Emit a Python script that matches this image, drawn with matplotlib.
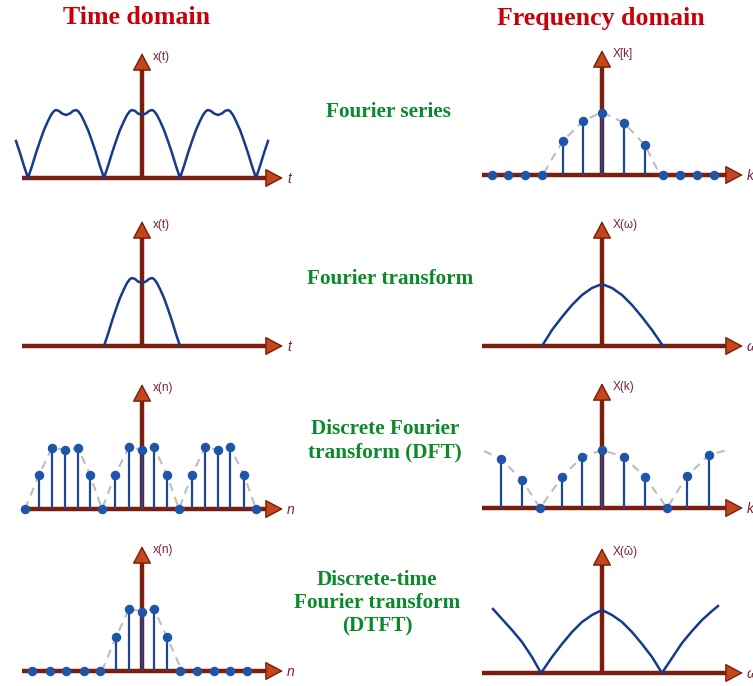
import matplotlib.pyplot as plt
import numpy as np

W, H = 753, 686

# --- data (panel units: 1 unit ~ 1 px, origin at the axes crossing) ---
# one arch of the continuous time signal (offset from arch centre, height)
arch_u = [-38, -34, -30, -26, -22, -18, -15, -12, -10, -7, -4, 0, 4, 7, 10, 12, 15, 18, 22, 26, 30, 34, 38]
arch_h = [0, 12, 25, 37, 48, 57, 63, 67, 68, 67, 64.5, 63, 64.5, 67, 68, 67, 63, 57, 48, 37, 25, 12, 0]
fs_centres = [-152, -76, 0, 76, 152]     # Fourier series: periodic copies
fs_span = (-127, 127)

# Fourier series coefficients X[k]
fsk_x = [-110, -94, -77, -60, -39, -19, 0, 22, 43, 61, 78, 95, 112]
fsk_h = [0, 0, 0, 0, 34, 54, 62, 52, 30, 0, 0, 0, 0]
fsk_env_x = [-58, -50, -39, -19, 0, 22, 43, 57]
fsk_env_h = [2, 16, 34, 54, 63, 52, 30, 2]

# Fourier transform X(w)
ft_w = [-60, -50, -40, -30, -20, -10, 0, 10, 20, 30, 40, 50, 61]
ft_h = [0, 16, 29, 41, 51, 58, 62, 58, 51, 41, 29, 16, 0]

# DFT: x(n) periodic samples
dft_n = [-117, -103, -90, -77, -64, -52, -40, -27, -13, 0, 12, 25, 37, 50, 63, 76, 88, 102, 114]
dft_x = [0, 34, 61, 59, 61, 34, 0, 34, 62, 59, 62, 34, 0, 34, 62, 59, 62, 34, 0]
# DFT: X(k)
dft_k = [-101, -80, -62, -40, -20, 0, 22, 43, 65, 85, 107]
dft_X = [49, 28, 0, 31, 51, 58, 51, 31, 0, 32, 53]
dft_env_k = [-118, -101, -80, -62, -40, -20, 0, 22, 43, 65, 85, 107, 125]
dft_env_X = [57, 49, 28, 0, 31, 51, 58, 51, 31, 0, 32, 53, 58]

# DTFT: x(n) finite samples
dtft_n = [-110, -92, -76, -58, -42, -26, -13, 0, 12, 25, 38, 55, 72, 88, 105]
dtft_x = [0, 0, 0, 0, 0, 34, 62, 59, 62, 34, 0, 0, 0, 0, 0]
dtft_env_n = [-40, -26, -13, 0, 12, 25, 40]
dtft_env_x = [0, 34, 62, 60, 62, 34, 0]
# DTFT: X(w~)
dtft_w = [-109, -100, -90, -80, -70, -61, -50, -40, -30, -20, -10, 0, 10, 20, 30, 40, 50, 60,
          70, 80, 90, 100, 110, 116]
dtft_X = [64, 54, 43, 31, 16, 0, 16, 29, 41, 51, 58, 63, 58, 51, 41, 29, 16, 0,
          15, 30, 42, 53, 62, 67]

row_titles = ["Fourier series", "Fourier transform", "Discrete Fourier\ntransform (DFT)",
              "Discrete-time\nFourier transform\n(DTFT)"]

# --- styles ---
AXIS_C = "#7a1e0e"
HEAD_C = "#c4461b"
CURVE_C = "#163a8c"
STEM_C = "#1f4596"
DOT_C = "#1f55a8"
ENV_C = "#bdbdbd"
LBL_C = "#7b1f3a"
GREEN = "#0a8a2a"
RED = "#c8000a"

fig = plt.figure(figsize=(W / 100, H / 100), dpi=100)


def panel(ox, oy, ylab, xlab):
    ax = fig.add_axes([(ox - 130) / W, (H - oy - 22) / H, 282 / W, 157 / H])
    ax.set_xlim(-130, 152)
    ax.set_ylim(-22, 135)
    ax.axis("off")
    x_left, x_tip, y_tip = -120, 141, 125
    head = 15
    ax.plot([x_left, x_tip - head + 2], [0, 0], color=AXIS_C, lw=3.2, solid_capstyle="butt", zorder=2)
    ax.plot([0, 0], [0, y_tip - head + 2], color=AXIS_C, lw=3.2, solid_capstyle="butt", zorder=2)
    style = "-|>,head_length=0.75,head_width=0.4"
    for start, tip in [((x_tip - head, 0), (x_tip, 0)), ((0, y_tip - head), (0, y_tip))]:
        ax.annotate("", xy=tip, xytext=start,
                    arrowprops=dict(arrowstyle=style, mutation_scale=15, fc=HEAD_C, ec=AXIS_C,
                                    lw=1, shrinkA=0, shrinkB=0), zorder=2)
    ax.text(11, 121, ylab, color=LBL_C, fontsize=8.5, family="Liberation Sans",
            ha="left", va="center")
    ax.text(145, -1, xlab, color=LBL_C, fontsize=10, style="italic", family="Liberation Sans",
            ha="left", va="center")
    return ax


def stems(ax, xs, hs, env_x=None, env_h=None):
    if env_x is not None:
        ax.plot(env_x, env_h, color=ENV_C, lw=1.5, dashes=(4, 3), zorder=1)
    xs = np.array(xs)
    hs = np.array(hs)
    ax.vlines(xs, 0, hs, color=STEM_C, lw=1.6, zorder=3)
    ax.plot(xs, hs, "o", color=DOT_C, ms=5.8, zorder=4)


# Fourier series
ax = panel(142, 178, "x(t)", "t")
u = np.concatenate([np.array(arch_u) + c for c in fs_centres])
h = np.concatenate([arch_h for c in fs_centres])
keep = (u >= fs_span[0]) & (u <= fs_span[1])
ax.plot(u[keep], h[keep], color=CURVE_C, lw=1.8, zorder=3)

ax = panel(602, 175, "X[k]", "k")
stems(ax, fsk_x, fsk_h, fsk_env_x, fsk_env_h)

# Fourier transform
ax = panel(142, 346, "x(t)", "t")
ax.plot(arch_u, arch_h, color=CURVE_C, lw=1.8, zorder=3)

ax = panel(602, 346, "X(ω)", "ω")
ax.plot(ft_w, ft_h, color=CURVE_C, lw=1.8, zorder=3)

# DFT
ax = panel(142, 509, "x(n)", "n")
stems(ax, dft_n, dft_x, dft_n, dft_x)

ax = panel(602, 508, "X(k)", "k")
stems(ax, dft_k, dft_X, dft_env_k, dft_env_X)

# DTFT
ax = panel(142, 671, "x(n)", "n")
stems(ax, dtft_n, dtft_x, dtft_env_n, dtft_env_x)

ax = panel(602, 673, "X(ῶ)", "ω")
ax.plot(dtft_w, dtft_X, color=CURVE_C, lw=1.8, zorder=3)

# headings and row names
fig.text(137 / W, 1 - 18 / H, "Time domain", color=RED, fontsize=18.6, fontweight="bold",
         family="Liberation Serif", ha="center", va="center")
fig.text(601 / W, 1 - 18 / H, "Frequency domain", color=RED, fontsize=18.6, fontweight="bold",
         family="Liberation Serif", ha="center", va="center")
for (cx, cy), name in zip([(388, 112), (390, 279), (385, 441), (377, 603)], row_titles):
    fig.text(cx / W, 1 - cy / H, name, color=GREEN, fontsize=15.3, fontweight="bold",
             family="Liberation Serif", ha="center", va="center", linespacing=1.2)

fig.savefig("out.png", dpi=100)
